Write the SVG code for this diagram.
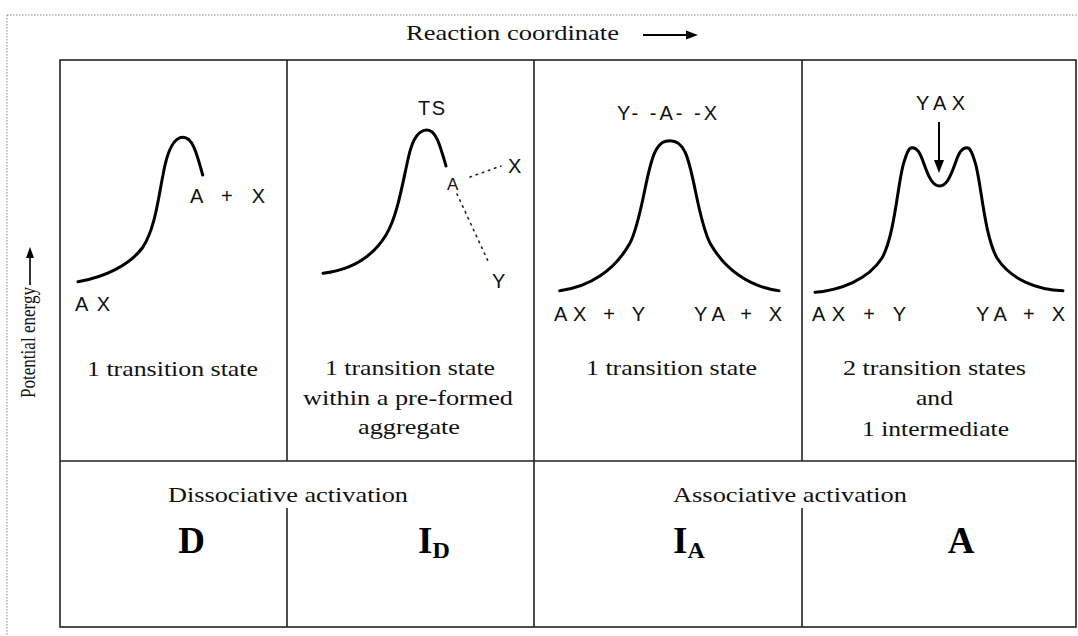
<svg xmlns="http://www.w3.org/2000/svg" width="1078" height="636" viewBox="0 0 1078 636">
<defs>
<style>
.grid{stroke:#222;stroke-width:1.6;fill:none}
.frame{stroke:#8a8a8a;stroke-width:1;stroke-dasharray:1.5 1.5;fill:none}
.curve{stroke:#000;stroke-width:3;fill:none;stroke-linecap:round;stroke-linejoin:round}
.serif{font-family:"Liberation Serif","Times New Roman",serif;font-size:22px;fill:#111}
.big{font-family:"Liberation Serif","Times New Roman",serif;font-weight:bold;fill:#000}
.sans{font-family:"Liberation Sans",Arial,sans-serif;font-size:20px;fill:#111}
.dot{stroke:#222;stroke-width:1.6;stroke-dasharray:1.5 5;fill:none;stroke-linecap:round}
.arr{stroke:#000;stroke-width:2;fill:none}
</style>
</defs>
<rect width="1078" height="636" fill="#fff"/>
<g id="frame">
<line class="frame" x1="7" y1="15" x2="1078" y2="15"/>
<line class="frame" x1="7" y1="15" x2="7" y2="636"/>
</g>
<g id="grid">
<rect class="grid" x="60" y="60" width="1016" height="567"/>
<line class="grid" x1="60" y1="461" x2="1076" y2="461"/>
<line class="grid" x1="534" y1="60" x2="534" y2="627"/>
<line class="grid" x1="287" y1="60" x2="287" y2="461"/>
<line class="grid" x1="802" y1="60" x2="802" y2="461"/>
<line class="grid" x1="287" y1="508" x2="287" y2="627"/>
<line class="grid" x1="802" y1="508" x2="802" y2="627"/>
</g>
<g id="axis-x">
<text class="serif" x="406" y="40" textLength="213" lengthAdjust="spacingAndGlyphs">Reaction coordinate</text>
<line class="arr" x1="643" y1="35" x2="688" y2="35"/>
<polygon points="686,30.5 698,35 686,39.5" fill="#000"/>
</g>
<g id="axis-y">
<text class="serif" style="font-size:21px" transform="translate(35,342.5) rotate(-90)" text-anchor="middle" textLength="111" lengthAdjust="spacingAndGlyphs">Potential energy</text>
<line class="arr" style="stroke-width:1.6" x1="30" y1="285" x2="30" y2="256"/>
<polygon points="26,258 30,247 34,258" fill="#000"/>
</g>
<g id="panel-D">
<path class="curve" d="M78,281.7 C105,277 130,265 143,247 C155,228 158,200 163,175 C167,152 173,137.3 183,137.3 C192,137.3 196,150 202.7,175"/>
<text class="sans" x="75" y="310.5" textLength="35">AX</text>
<text class="sans" x="190" y="203" textLength="75">A + X</text>
<text class="serif" x="87" y="376" textLength="171" lengthAdjust="spacingAndGlyphs">1 transition state</text>
</g>
<g id="panel-ID">
<path class="curve" d="M323,273.3 C350,270 372,258 386,235 C398,215 403,180 409,155 C413,138 419,130 427,130 C436,130 440,145 446,166"/>
<text class="sans" x="418" y="115" textLength="27">TS</text>
<text class="sans" style="font-size:17px" x="447" y="190">A</text>
<text class="sans" x="508" y="173">X</text>
<text class="sans" x="492" y="288">Y</text>
<text class="serif" x="325" y="375" textLength="170" lengthAdjust="spacingAndGlyphs">1 transition state</text>
<text class="serif" x="303" y="405" textLength="210" lengthAdjust="spacingAndGlyphs">within a pre-formed</text>
<text class="serif" x="358" y="434" textLength="102" lengthAdjust="spacingAndGlyphs">aggregate</text>
</g>
<g id="panel-IA">
<path class="curve" d="M559.7,290.7 C590,287 615,270 630,243 C642,220 646,170 655,152 C660,142 665,140.7 670,140.7 C676,140.7 681,143 685,152 C694,170 698,220 710,243 C725,270 750,287 779,290.7"/>
<text class="sans" x="617" y="120" textLength="100">Y- -A- -X</text>
<text class="sans" x="554" y="321" textLength="91">AX + Y</text>
<text class="sans" x="694" y="321" textLength="88">YA + X</text>
<text class="serif" x="586" y="375" textLength="171" lengthAdjust="spacingAndGlyphs">1 transition state</text>
</g>
<g id="panel-A">
<path class="curve" d="M815,292.3 C840,290 868,280 882,258 C895,235 898,180 904,162 C907,152 909,147.7 912,147.7 C917,147.7 920,152 924,164 C929,178 933,186 939.6,186 C946,186 950,178 955,164 C959,152 962,147.7 967,147.7 C970,147.7 972,152 975,162 C981,180 984,235 997,258 C1011,280 1038,290 1063,290.7"/>
<text class="sans" x="916" y="110" textLength="49">YAX</text>
<text class="sans" x="812" y="321" textLength="94">AX + Y</text>
<text class="sans" x="976" y="321" textLength="89">YA + X</text>
<text class="serif" x="843" y="375" textLength="183" lengthAdjust="spacingAndGlyphs">2 transition states</text>
<text class="serif" x="916" y="405" textLength="37" lengthAdjust="spacingAndGlyphs">and</text>
<text class="serif" x="862" y="436" textLength="147" lengthAdjust="spacingAndGlyphs">1 intermediate</text>
</g>
<g id="connectors">
<line class="dot" x1="470" y1="177" x2="501" y2="166"/>
<line class="dot" x1="457" y1="194" x2="488" y2="261"/>
<line class="arr" x1="939" y1="122" x2="939" y2="163"/>
<polygon points="934,160 944,160 939,173" fill="#000"/>
</g>
<g id="label-dissociative">
<text class="serif" x="168" y="502" textLength="240" lengthAdjust="spacingAndGlyphs">Dissociative activation</text>
<text class="big" style="font-size:37px" x="191.5" y="553" text-anchor="middle">D</text>
<text class="big" x="418" y="553"><tspan style="font-size:37px">I</tspan><tspan style="font-size:24px" dy="5">D</tspan></text>
</g>
<g id="label-associative">
<text class="serif" x="673" y="502" textLength="234" lengthAdjust="spacingAndGlyphs">Associative activation</text>
<text class="big" x="673" y="553"><tspan style="font-size:37px">I</tspan><tspan style="font-size:24px" dy="5">A</tspan></text>
<text class="big" style="font-size:37px" x="961" y="553" text-anchor="middle">A</text>
</g>
</svg>
